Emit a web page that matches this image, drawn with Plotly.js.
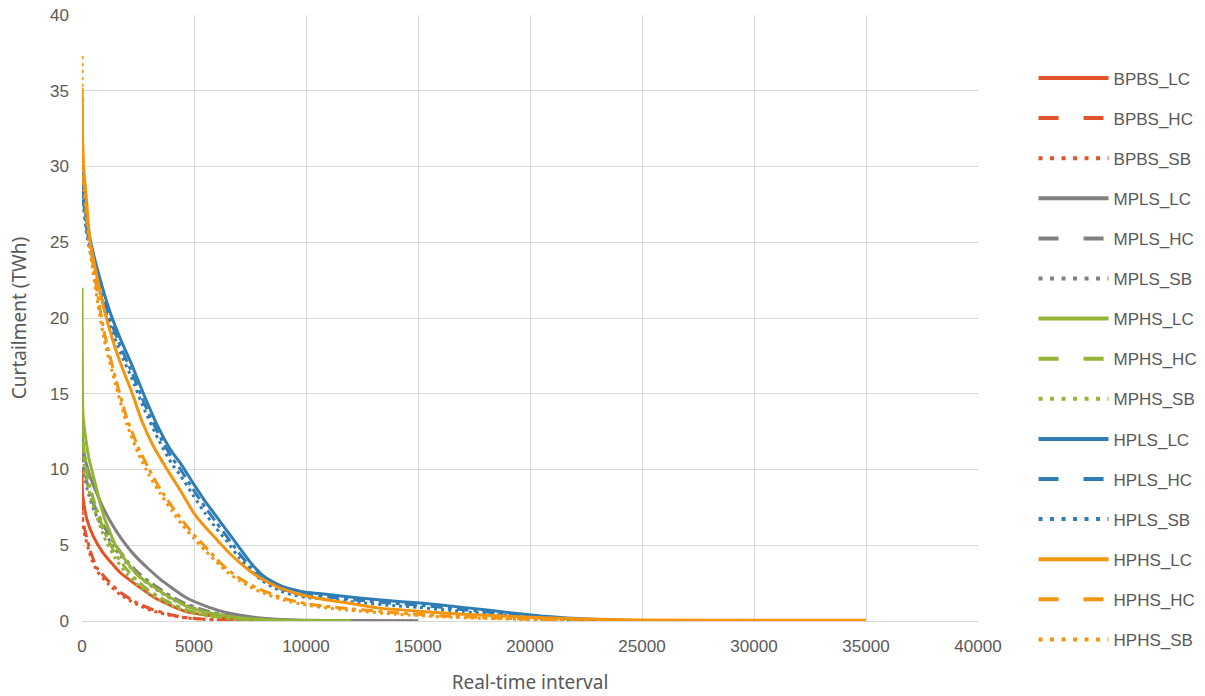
<!DOCTYPE html>
<html>
<head>
<meta charset="utf-8">
<script src="https://cdn.plot.ly/plotly-3.0.1.min.js"></script>
<style>html,body{margin:0;padding:0;background:#fff;}#chart{width:1205px;height:696px;}</style>
</head>
<body>
<div id="chart"></div>
<script>
// ---- data ----
const seriesNames = ["BPBS_LC","BPBS_HC","BPBS_SB","MPLS_LC","MPLS_HC","MPLS_SB","MPHS_LC","MPHS_HC","MPHS_SB","HPLS_LC","HPLS_HC","HPLS_SB","HPHS_LC","HPHS_HC","HPHS_SB"];

const xBPBS_LC = [0, 20, 100, 220, 500, 940, 1700, 2500, 3170, 4000, 4690, 5500, 6160, 7000, 8000, 10000, 15000];
const yBPBS_LC = [10.1, 8.5, 7.6, 6.7, 5.6, 4.5, 3.2, 2.3, 1.6, 1.0, 0.6, 0.4, 0.25, 0.12, 0.05, 0.02, 0];
const xBPBS_HC = [0, 20, 130, 400, 670, 1200, 1700, 2500, 3170, 4000, 4690, 5500, 6500, 8000, 12000];
const yBPBS_HC = [8.0, 6.8, 6.0, 4.5, 3.5, 2.6, 1.9, 1.15, 0.75, 0.4, 0.22, 0.12, 0.06, 0.02, 0];
const xBPBS_SB = [0, 20, 130, 400, 670, 1200, 1700, 2500, 3170, 4000, 4690, 5500, 6500, 8000, 12000];
const yBPBS_SB = [7.2, 6.4, 5.6, 4.2, 3.3, 2.4, 1.75, 1.05, 0.65, 0.35, 0.2, 0.1, 0.05, 0.02, 0];

const xMPLS = [0, 20, 100, 300, 500, 1000, 1500, 2000, 2500, 3000, 3500, 4000, 4700, 5500, 6200, 7000, 8000, 9000, 10000, 12000, 15000];
const yMPLS_LC = [14, 12, 11, 9.8, 9, 7.3, 6, 4.95, 4.1, 3.4, 2.75, 2.2, 1.5, 1.0, 0.65, 0.4, 0.2, 0.1, 0.05, 0.02, 0];
const yMPLS_HC = [13, 11, 10, 8.7, 7.8, 6.2, 5.0, 4.0, 3.2, 2.6, 2.1, 1.6, 1.1, 0.7, 0.45, 0.25, 0.12, 0.06, 0.03, 0.01, 0];
const yMPLS_SB = [12.5, 10.5, 9.5, 8.3, 7.4, 5.9, 4.7, 3.8, 3.0, 2.4, 1.9, 1.45, 1.0, 0.62, 0.4, 0.22, 0.1, 0.05, 0.02, 0.01, 0];

const xMPHS = [0, 15, 50, 100, 300, 500, 1000, 1500, 2000, 2500, 3000, 3500, 4000, 4700, 5500, 6200, 7000, 8000, 9000, 10000, 12000];
const yMPHS_LC = [22, 15.5, 13.5, 12.8, 10.8, 9.6, 6.8, 5.0, 3.9, 3.0, 2.45, 1.95, 1.5, 0.95, 0.6, 0.4, 0.22, 0.1, 0.05, 0.02, 0];
const yMPHS_HC = [17, 13, 12, 11, 9.2, 8.1, 5.9, 4.4, 3.4, 2.6, 2.0, 1.55, 1.15, 0.72, 0.42, 0.25, 0.13, 0.06, 0.03, 0.01, 0];
const yMPHS_SB = [15, 12, 11.2, 10.3, 8.7, 7.6, 5.5, 4.1, 3.1, 2.35, 1.8, 1.38, 1.02, 0.62, 0.36, 0.21, 0.1, 0.05, 0.02, 0.01, 0];

const xHPLS = [0, 50, 200, 500, 800, 1250, 1750, 2200, 2800, 3400, 4000, 4400, 5000, 5500, 6000, 6500, 7000, 7500, 8000, 8500, 9000, 9500, 10000, 11000, 12500, 14000, 15000, 17000, 19400, 20500, 21650, 23000, 24500, 27000, 30000];
const yHPLS_LC = [30, 28.5, 26.5, 24.3, 22.6, 20.4, 18.5, 17.0, 14.8, 12.8, 11.2, 10.4, 9.0, 7.9, 6.9, 5.9, 4.9, 3.9, 3.1, 2.6, 2.25, 2.05, 1.9, 1.75, 1.5, 1.3, 1.2, 0.9, 0.5, 0.33, 0.2, 0.1, 0.03, 0.01, 0];
const yHPLS_HC = [29.5, 28, 26, 23.8, 22.1, 19.9, 18.0, 16.5, 14.3, 12.4, 10.8, 10.0, 8.6, 7.5, 6.5, 5.5, 4.5, 3.6, 2.85, 2.4, 2.05, 1.85, 1.72, 1.58, 1.35, 1.15, 1.05, 0.75, 0.4, 0.25, 0.15, 0.07, 0.02, 0.01, 0];
const yHPLS_SB = [29, 27.6, 25.6, 23.4, 21.7, 19.5, 17.6, 16.1, 13.9, 12.0, 10.4, 9.6, 8.2, 7.1, 6.1, 5.2, 4.2, 3.4, 2.7, 2.25, 1.9, 1.7, 1.56, 1.42, 1.2, 1.0, 0.9, 0.62, 0.3, 0.18, 0.1, 0.05, 0.02, 0, 0];

const xHPHS_LC = [0, 20, 60, 200, 357, 700, 1000, 1400, 1800, 2200, 2700, 3200, 3800, 4400, 5000, 5500, 6000, 6500, 7000, 7500, 8000, 8800, 9500, 10000, 10900, 11800, 13300, 15000, 17000, 20000, 22000, 25000, 30000, 35000];
const yHPHS_LC = [35.2, 32.5, 30.2, 27.8, 25.1, 22.5, 20.5, 18.4, 16.7, 15.2, 13.1, 11.5, 10.0, 8.6, 7.1, 6.2, 5.4, 4.6, 3.9, 3.3, 2.8, 2.2, 1.85, 1.65, 1.4, 1.2, 0.85, 0.65, 0.45, 0.25, 0.15, 0.07, 0.05, 0.05];
const xHPHS = [0, 20, 60, 200, 400, 700, 1000, 1500, 2000, 2500, 3000, 3500, 4000, 4500, 5000, 5500, 6000, 6500, 7000, 7500, 8000, 9000, 10000, 11000, 12000, 14000, 16000, 18000, 20000, 22000, 25000, 30000];
const yHPHS_HC = [34.5, 31.5, 29.5, 27, 24.5, 21.5, 19.0, 16.0, 13.4, 11.5, 10.0, 8.7, 7.6, 6.6, 5.7, 4.9, 4.1, 3.4, 2.85, 2.4, 2.05, 1.5, 1.15, 0.95, 0.8, 0.55, 0.35, 0.22, 0.12, 0.06, 0.02, 0];
const xHPHS_SB = [0, 3, 6, 20, 60, 200, 400, 700, 1000, 1500, 2000, 2500, 3000, 3500, 4000, 4500, 5000, 5500, 6000, 6500, 7000, 7500, 8000, 9000, 10000, 11000, 12000, 14000, 16000, 18000, 20000, 22000, 25000, 30000];
const yHPHS_SB = [37.3, 36.6, 35.9, 31, 29, 26.5, 24, 21.0, 18.5, 15.6, 13.0, 11.1, 9.6, 8.4, 7.3, 6.3, 5.45, 4.65, 3.9, 3.2, 2.7, 2.25, 1.9, 1.38, 1.05, 0.85, 0.7, 0.45, 0.28, 0.17, 0.1, 0.05, 0.02, 0];

const xTicks = [0, 5000, 10000, 15000, 20000, 25000, 30000, 35000, 40000];
const yTicks = [0, 5, 10, 15, 20, 25, 30, 35, 40];

// ---- styles ----
const RED = "#E2532A", GRAY = "#808080", GREEN = "#93B535", BLUE = "#2F7DB4", ORANGE = "#F5940F";
const PLOT_DASH = {LC: "solid", HC: "12px,5px,4px,5px", SB: "3px,4px"};
const LEG_DASH = {LC: "solid", HC: "20px,25px", SB: "4px,7.5px"};

const defs = [
  [xBPBS_LC, yBPBS_LC, RED, "LC"], [xBPBS_HC, yBPBS_HC, RED, "HC"], [xBPBS_SB, yBPBS_SB, RED, "SB"],
  [xMPLS, yMPLS_LC, GRAY, "LC"], [xMPLS, yMPLS_HC, GRAY, "HC"], [xMPLS, yMPLS_SB, GRAY, "SB"],
  [xMPHS, yMPHS_LC, GREEN, "LC"], [xMPHS, yMPHS_HC, GREEN, "HC"], [xMPHS, yMPHS_SB, GREEN, "SB"],
  [xHPLS, yHPLS_LC, BLUE, "LC"], [xHPLS, yHPLS_HC, BLUE, "HC"], [xHPLS, yHPLS_SB, BLUE, "SB"],
  [xHPHS_LC, yHPHS_LC, ORANGE, "LC"], [xHPHS, yHPHS_HC, ORANGE, "HC"], [xHPHS_SB, yHPHS_SB, ORANGE, "SB"]
];

const traces = defs.map((d, i) => ({
  type: "scatter", mode: "lines", name: seriesNames[i],
  x: d[0], y: d[1], showlegend: false, hoverinfo: "skip",
  line: {color: d[2], width: 3, dash: PLOT_DASH[d[3]], shape: "spline", smoothing: 0.5}
}));
// legend entries (same series, legend dash style as in the reference legend)
const legendTraces = defs.map((d, i) => ({
  type: "scatter", mode: "lines", name: seriesNames[i],
  x: [null], y: [null], legendgroup: "g" + i, showlegend: true,
  line: {color: d[2], width: 4, dash: LEG_DASH[d[3]]}
}));

const tickFont = {family: "Liberation Sans, Arial, sans-serif", size: 17, color: "#595959"};
const titleFont = {family: "Noto Sans, sans-serif", size: 19, color: "#595959"};
const layout = {
  width: 1205, height: 696,
  margin: {l: 82, r: 227, t: 15, b: 75, autoexpand: false},
  paper_bgcolor: "#ffffff", plot_bgcolor: "#ffffff",
  showlegend: true,
  legend: {
    x: 1.062, xanchor: "left", y: 0.925, yanchor: "top",
    traceorder: "grouped", tracegroupgap: 15, itemwidth: 70,
    font: {family: "Liberation Sans, Arial, sans-serif", size: 17, color: "#595959"},
    bgcolor: "rgba(0,0,0,0)"
  },
  xaxis: {
    range: [0, 40000], tickvals: xTicks, ticktext: xTicks.map(String),
    showgrid: true, gridcolor: "#d9d9d9", gridwidth: 1,
    zeroline: false, showline: true, linecolor: "#d9d9d9", mirror: false,
    ticks: "", tickfont: tickFont, ticklabelstandoff: 10,
    title: {text: "Real-time interval", font: titleFont, standoff: 20}
  },
  yaxis: {
    range: [0, 40], tickvals: yTicks, ticktext: yTicks.map(String),
    showgrid: true, gridcolor: "#d9d9d9", gridwidth: 1,
    zeroline: false, showline: false, ticks: "", tickfont: tickFont, ticklabelstandoff: 12,
    title: {text: "Curtailment (TWh)", font: titleFont, standoff: 18}
  }
};

Plotly.newPlot("chart", traces.concat(legendTraces), layout, {displayModeBar: false, staticPlot: true});
</script>
</body>
</html>
